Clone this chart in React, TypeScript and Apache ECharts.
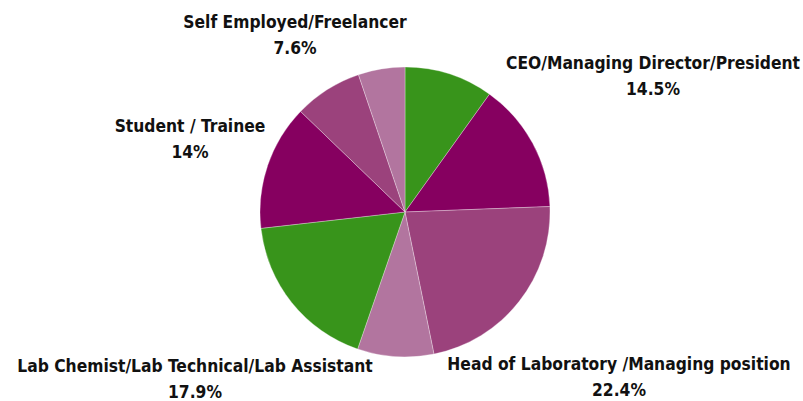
import React, { useEffect, useRef } from "react";
import * as echarts from "echarts";

const categories = [
  "Other",
  "CEO/Managing Director/President",
  "Head of Laboratory /Managing position",
  "Researcher",
  "Lab Chemist/Lab Technical/Lab Assistant",
  "Student / Trainee",
  "Self Employed/Freelancer",
  "Academic",
];
const values = [9.9, 14.5, 22.4, 8.5, 17.9, 14, 7.6, 5.2];
const showLabel = [false, true, true, false, true, true, true, false];
const colors = ["#38941B", "#860060", "#9B427C", "#B2759F", "#38941B", "#860060", "#9B427C", "#B2759F"];
// label centres (layout only)
const labelPos: Record<number, [number, number]> = {
  1: [653, 76],
  2: [619, 377],
  4: [195, 379],
  5: [190, 139],
  6: [295, 35],
};

export default function App() {
  const ref = useRef<HTMLDivElement>(null);
  useEffect(() => {
    const chart = echarts.init(ref.current!, null, { renderer: "svg" });
    chart.setOption({
      animation: false,
      backgroundColor: "#fff",
      series: [
        {
          type: "pie",
          center: [405, 212],
          radius: 145,
          startAngle: 90,
          clockwise: true,
          itemStyle: { borderColor: "rgba(255,255,255,0.6)", borderWidth: 0.5 },
          label: {
            show: true,
            position: "outside",
            formatter: (p: any) => `${p.name}\n${p.value}%`,
            fontFamily: "'DejaVu Sans Condensed', sans-serif",
            fontWeight: "bold",
            fontSize: 17.3,
            lineHeight: 26,
            color: "#111",
            align: "center",
            overflow: "none",
            edgeDistance: 0,
          },
          labelLine: { show: false },
          labelLayout: (p: any) => {
            const pos = labelPos[p.dataIndex];
            if (!pos) return {};
            return { x: pos[0], y: pos[1], align: "center", verticalAlign: "middle" };
          },
          data: categories.map((c, i) => ({
            name: c,
            value: values[i],
            itemStyle: { color: colors[i] },
            label: { show: showLabel[i] },
          })),
        },
      ],
    });
    return () => chart.dispose();
  }, []);
  return (
    <div
      ref={ref}
      style={{ position: "absolute", left: 0, top: 0, width: 803, height: 401 }}
    />
  );
}
